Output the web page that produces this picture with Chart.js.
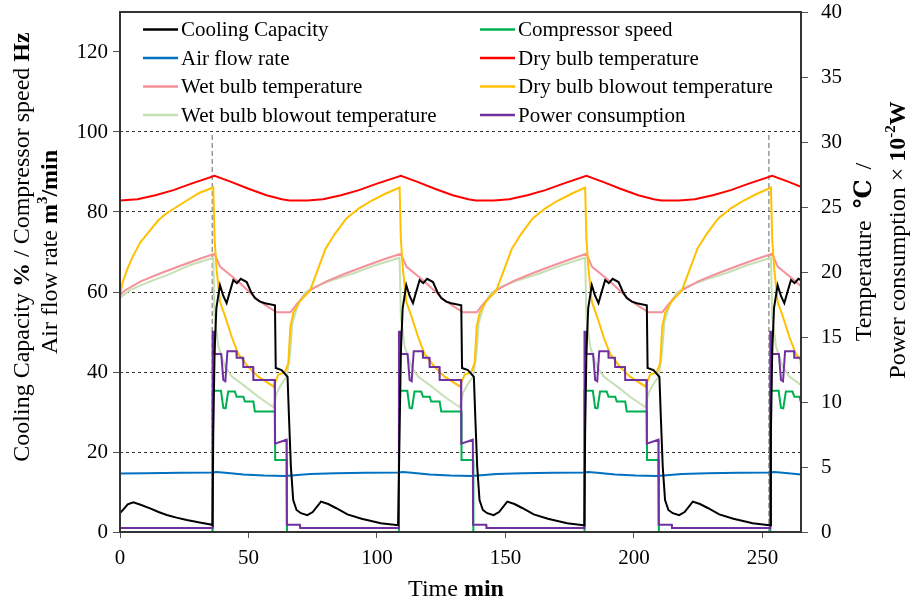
<!DOCTYPE html>
<html>
<head>
<meta charset="utf-8">
<script src="https://cdn.jsdelivr.net/npm/chart.js@4"></script>
<style>
  html, body { margin: 0; padding: 0; background: #fff; }
  #wrap { width: 913px; height: 601px; position: relative; }
</style>
</head>
<body>
<div id="wrap"><canvas id="chart"></canvas></div>
<script>
// ---- data: [time (min), value] ----
// left axis: Cooling Capacity %, Compressor speed Hz, Air flow rate m3/min
const coolingCapacity = [
  [0,4.7],[1.5,5.8],[3,6.9],[5.2,7.4],[8,6.8],[11.7,5.9],[15,5.0],[18.2,4.25],[22,3.6],[26,3.0],[31,2.4],[35.8,1.8],
  [36.0,1.7],[36.3,25],[36.8,45],[37.5,56],[38.9,61.7],[40.2,59],[41.5,57.2],[42.5,59.5],[44.1,63],[45.5,62.2],[47.0,63.3],[49.3,62.5],[51.0,60],[52.5,58.5],[54.5,57.6],[56.4,57.2],[60.3,56.7],[60.6,41],[62.9,40.5],[65.2,38.8],[65.8,28],[66.5,16.3],[67.4,8],[68.7,5.5],[70.4,4.7],[72.9,4.2],[75.0,5.0],[78.2,7.6],[81.0,7.0],[84.0,6.0],[88.5,4.4],[94.0,3.3],[101.5,2.2],[108.2,1.7],
  [108.5,1.7],[108.8,25],[109.3,45],[110.0,56],[111.4,61.7],[112.7,59],[114.0,57.2],[115.0,59.5],[116.6,63],[118.0,62.2],[119.5,63.3],[121.8,62.5],[123.5,60],[125.0,58.5],[127.0,57.6],[128.9,57.2],[132.8,56.7],[133.1,41],[135.4,40.5],[137.7,38.8],[138.3,28],[139.0,16.3],[139.9,8],[141.2,5.5],[142.9,4.7],[145.4,4.2],[147.5,5.0],[150.7,7.6],[153.5,7.0],[156.5,6.0],[161.0,4.4],[166.5,3.3],[174.0,2.2],[180.4,1.7],
  [180.7,1.7],[181.0,25],[181.5,45],[182.2,56],[183.6,61.7],[184.9,59],[186.2,57.2],[187.2,59.5],[188.8,63],[190.2,62.2],[191.7,63.3],[194.0,62.5],[195.7,60],[197.2,58.5],[199.2,57.6],[201.1,57.2],[205.0,56.7],[205.3,41],[207.6,40.5],[209.9,38.8],[210.5,28],[211.2,16.3],[212.1,8],[213.4,5.5],[215.1,4.7],[217.6,4.2],[219.7,5.0],[222.9,7.6],[225.7,7.0],[228.7,6.0],[233.2,4.4],[238.7,3.3],[246.2,2.2],[252.7,1.7],
  [253.0,1.7],[253.3,25],[253.8,45],[254.5,56],[255.9,61.7],[257.2,59],[258.5,57.2],[259.5,59.5],[261.1,63],[262.5,62.2],[264.0,63.3],[265,63]
];
const compressorSpeed = [
  [0,0],[36.0,0],
  [36.05,35.3],[39.3,35.3],[40.2,31],[41.1,30.9],[42.1,35.1],[44.7,35.1],[45.4,33.8],[48.0,33.8],[48.6,32.6],[51.9,32.6],[52.5,30.1],[60.3,30.1],[60.4,18],[64.9,18],[65.0,0],[108.5,0],
  [108.55,35.3],[111.8,35.3],[112.7,31],[113.6,30.9],[114.6,35.1],[117.2,35.1],[117.9,33.8],[120.5,33.8],[121.1,32.6],[124.4,32.6],[125.0,30.1],[132.8,30.1],[132.9,18],[137.4,18],[137.5,0],[180.7,0],
  [180.75,35.3],[184.0,35.3],[184.9,31],[185.8,30.9],[186.8,35.1],[189.4,35.1],[190.1,33.8],[192.7,33.8],[193.3,32.6],[196.6,32.6],[197.2,30.1],[205.0,30.1],[205.1,18],[209.6,18],[209.7,0],[253.0,0],
  [253.05,35.3],[256.3,35.3],[257.2,31],[258.1,30.9],[259.1,35.1],[261.7,35.1],[262.4,33.8],[264.4,33.8],[264.9,32.6],[265,32.6]
];
const airFlowRate = [
  [0,14.6],[10,14.7],[24,14.8],[36.0,14.9],[37.5,15.0],[41,14.8],[48,14.4],[56,14.1],[64,14.0],[68,14.2],[74,14.5],[84,14.7],[96,14.8],
  [108.5,14.9],[110,15.0],[113.5,14.8],[120.5,14.4],[128.5,14.1],[136.5,14.0],[140.5,14.2],[146.5,14.5],[156.5,14.7],[168.5,14.8],
  [180.7,14.9],[182.2,15.0],[185.7,14.8],[192.7,14.4],[200.7,14.1],[208.7,14.0],[212.7,14.2],[218.7,14.5],[228.7,14.7],[240.7,14.8],
  [253.0,14.9],[254.5,15.0],[258,14.8],[265,14.4]
];
// right axis: Temperature degC, Power consumption x10^-2 W
const dryBulbTemp = [
  [0,25.5],[6.8,25.6],[13.8,25.9],[20.8,26.3],[27.8,26.8],[36.8,27.4],
  [43,26.95],[50,26.4],[57,25.9],[63,25.6],[66,25.5],[73,25.5],[79,25.6],[86,25.9],[93,26.3],[100,26.8],[109.3,27.4],
  [115.5,26.95],[122.5,26.4],[129.5,25.9],[135.5,25.6],[138.5,25.5],[145.5,25.5],[151.5,25.6],[158.5,25.9],[165.5,26.3],[172.5,26.8],[181.5,27.4],
  [187.7,26.95],[194.7,26.4],[201.7,25.9],[207.7,25.6],[210.7,25.5],[217.7,25.5],[223.7,25.6],[230.7,25.9],[237.7,26.3],[244.7,26.8],[253.8,27.4],
  [260,26.95],[265,26.55]
];
const wetBulbTemp = [
  [0,18.2],[2,18.6],[8.3,19.3],[15.8,19.9],[23.8,20.5],[30.8,21.0],[36.8,21.4],
  [39,20.4],[44,19.6],[48,18.9],[53.3,17.9],[57,17.4],[61,16.9],[66.3,16.9],[68.7,17.5],[71,18.0],[74,18.6],[80.5,19.3],[88,19.9],[96,20.5],[103,21.0],[109.3,21.4],
  [111.5,20.4],[116.5,19.6],[120.5,18.9],[125.8,17.9],[129.5,17.4],[133.5,16.9],[138.8,16.9],[141.2,17.5],[143.5,18.0],[146.5,18.6],[153,19.3],[160.5,19.9],[168.5,20.5],[175.5,21.0],[181.5,21.4],
  [183.7,20.4],[188.7,19.6],[192.7,18.9],[198,17.9],[201.7,17.4],[205.7,16.9],[211,16.9],[213.4,17.5],[215.7,18.0],[218.7,18.6],[225.2,19.3],[232.7,19.9],[240.7,20.5],[247.7,21.0],[253.8,21.4],
  [256,20.4],[261,19.6],[265,18.9]
];
const dryBulbBlowout = [
  [0,18.2],[1,19.2],[3,20.3],[5,21.2],[8,22.3],[11.7,23.2],[15,24.0],[18,24.5],[22,25.0],[26,25.5],[31,26.1],[36.3,26.5],
  [36.8,22.5],[37.6,20.2],[38.9,17.7],[40.9,16.6],[43.5,15.0],[46,13.7],[49.9,12.7],[53.8,11.95],[59.7,11.2],[61.6,12.1],[64.2,12.3],[65.5,13.0],[66.3,15.8],[67.5,16.9],[70.2,17.8],[74,18.6],[77,20.2],[80,21.8],[83.5,22.9],[88,24.1],[93,24.9],[98,25.5],[103,26.0],[108.8,26.5],
  [109.3,22.5],[110.1,20.2],[111.4,17.7],[113.4,16.6],[116,15.0],[118.5,13.7],[122.4,12.7],[126.3,11.95],[132.2,11.2],[134.1,12.1],[136.7,12.3],[138,13.0],[138.8,15.8],[140,16.9],[142.7,17.8],[146.5,18.6],[149.5,20.2],[152.5,21.8],[156,22.9],[160.5,24.1],[165.5,24.9],[170.5,25.5],[175.5,26.0],[181,26.5],
  [181.5,22.5],[182.3,20.2],[183.6,17.7],[185.6,16.6],[188.2,15.0],[190.7,13.7],[194.6,12.7],[198.5,11.95],[204.4,11.2],[206.3,12.1],[208.9,12.3],[210.2,13.0],[211,15.8],[212.2,16.9],[214.9,17.8],[218.7,18.6],[221.7,20.2],[224.7,21.8],[228.2,22.9],[232.7,24.1],[237.7,24.9],[242.7,25.5],[247.7,26.0],[253.3,26.5],
  [253.8,22.5],[254.6,20.2],[255.9,17.7],[257.9,16.6],[260.5,15.0],[263,13.7],[265,13.2]
];
const wetBulbBlowout = [
  [0,18.0],[3.8,18.6],[10.8,19.2],[18.8,19.8],[26.8,20.5],[36.3,21.1],
  [36.8,16.5],[38.3,14.25],[40.9,12.7],[43.5,11.95],[48.7,11.2],[53.8,10.4],[59.7,9.6],[61,10.7],[62.9,11.4],[64.9,11.95],[66.2,13.7],[67.1,16.1],[69.4,17.6],[72,18.4],[76,18.9],[83,19.4],[91,19.9],[99,20.5],[108.8,21.1],
  [109.3,16.5],[110.8,14.25],[113.4,12.7],[116,11.95],[121.2,11.2],[126.3,10.4],[132.2,9.6],[133.5,10.7],[135.4,11.4],[137.4,11.95],[138.7,13.7],[139.6,16.1],[141.9,17.6],[144.5,18.4],[148.5,18.9],[155.5,19.4],[163.5,19.9],[171.5,20.5],[181,21.1],
  [181.5,16.5],[183,14.25],[185.6,12.7],[188.2,11.95],[193.4,11.2],[198.5,10.4],[204.4,9.6],[205.7,10.7],[207.6,11.4],[209.6,11.95],[210.9,13.7],[211.8,16.1],[214.1,17.6],[216.7,18.4],[220.7,18.9],[227.7,19.4],[235.7,19.9],[243.7,20.5],[253.3,21.1],
  [253.8,16.5],[255.3,14.25],[257.9,12.7],[260.5,11.95],[265,11.3]
];
const powerConsumption = [
  [0,0.3],[36.0,0.3],
  [36.05,15.4],[36.7,15.4],[36.75,13.7],[39.4,13.7],[40.2,11.7],[41.0,11.6],[41.8,13.9],[45.3,13.9],[45.4,13.4],[47.9,13.4],[48.0,12.7],[51.8,12.7],[51.9,11.7],[60.2,11.7],[60.3,6.8],[64.8,7.1],[64.9,0.55],[70.0,0.55],[70.1,0.3],[108.5,0.3],
  [108.55,15.4],[109.2,15.4],[109.25,13.7],[111.9,13.7],[112.7,11.7],[113.5,11.6],[114.3,13.9],[117.8,13.9],[117.9,13.4],[120.4,13.4],[120.5,12.7],[124.3,12.7],[124.4,11.7],[132.7,11.7],[132.8,6.8],[137.3,7.1],[137.4,0.55],[142.5,0.55],[142.6,0.3],[180.7,0.3],
  [180.75,15.4],[181.4,15.4],[181.45,13.7],[184.1,13.7],[184.9,11.7],[185.7,11.6],[186.5,13.9],[190.0,13.9],[190.1,13.4],[192.6,13.4],[192.7,12.7],[196.5,12.7],[196.6,11.7],[204.9,11.7],[205.0,6.8],[209.5,7.1],[209.6,0.55],[214.7,0.55],[214.8,0.3],[253.0,0.3],
  [253.05,15.4],[253.7,15.4],[253.75,13.7],[256.4,13.7],[257.2,11.7],[258.0,11.6],[258.8,13.9],[262.3,13.9],[262.4,13.4],[264.9,13.4],[265,12.7]
];
// dashed vertical marks (time, from 0 up to 100 on the left axis)
const markerTimes = [35.9, 252.5];
const markerTop = 100;

// axis ranges / ticks
const xRange = [0, 265], xStep = 50;
const yLeftRange = [0, 130], yLeftStep = 20;
const yRightRange = [0, 40], yRightStep = 5;
const dashedGridValues = [20, 40, 60, 80, 100];

const FONT = "'Liberation Serif', 'Times New Roman', 'DejaVu Serif', serif";
Chart.defaults.font.family = FONT;
Chart.defaults.color = '#000';

const series = [
  { label: 'Cooling Capacity', data: coolingCapacity, color: '#000000', axis: 'y', order: 0 },
  { label: 'Compressor speed', data: compressorSpeed, color: '#00b050', axis: 'y', order: 2 },
  { label: 'Air flow rate', data: airFlowRate, color: '#0070c0', axis: 'y', order: 6 },
  { label: 'Dry bulb temperature', data: dryBulbTemp, color: '#ff0000', axis: 'y1', order: 4 },
  { label: 'Wet bulb temperature', data: wetBulbTemp, color: '#f4919b', axis: 'y1', order: 5 },
  { label: 'Dry bulb blowout temperature', data: dryBulbBlowout, color: '#ffc000', axis: 'y1', order: 3 },
  { label: 'Wet bulb blowout temperature', data: wetBulbBlowout, color: '#c6e0b4', axis: 'y1', order: 7 },
  { label: 'Power consumption', data: powerConsumption, color: '#7030a0', axis: 'y1', order: 1 }
];

const datasets = series.map(s => ({
  label: s.label,
  data: s.data.map(p => ({ x: p[0], y: p[1] })),
  borderColor: s.color,
  backgroundColor: s.color,
  borderWidth: 2,
  pointRadius: 0,
  tension: 0,
  fill: false,
  yAxisID: s.axis,
  order: s.order
}));
markerTimes.forEach(t => {
  datasets.push({
    label: '',
    data: [{ x: t, y: 0 }, { x: t, y: markerTop }],
    borderColor: '#8a8a8a',
    borderWidth: 1.3,
    borderDash: [5, 3],
    pointRadius: 0,
    yAxisID: 'y',
    order: 9
  });
});

// text with bold / superscript parts (or blank gaps), centred at (cx, cy), rotated by angle
function drawRich(ctx, parts, cx, cy, size, angle) {
  ctx.save();
  ctx.translate(cx, cy);
  ctx.rotate(angle);
  ctx.textBaseline = 'alphabetic';
  ctx.textAlign = 'left';
  ctx.fillStyle = '#000';
  const fontOf = p => (p.bold ? 'bold ' : '') + (p.sup ? Math.round(size * 0.62) : size) + 'px ' + FONT;
  let total = 0;
  const widths = parts.map(p => {
    if (p.gap) { total += p.gap; return p.gap; }
    ctx.font = fontOf(p);
    const w = ctx.measureText(p.t).width;
    total += w;
    return w;
  });
  let x = -total / 2;
  const base = size * 0.33;
  parts.forEach((p, i) => {
    if (!p.gap) {
      ctx.font = fontOf(p);
      ctx.fillText(p.t, x, p.sup ? base - size * 0.4 : base);
    }
    x += widths[i];
  });
  ctx.restore();
}

const framePlugin = {
  id: 'frame',
  afterDatasetsDraw(chart) {
    const { ctx, chartArea: a } = chart;
    ctx.save();
    ctx.strokeStyle = '#333';
    ctx.lineWidth = 2;
    ctx.strokeRect(a.left, a.top, a.right - a.left, a.bottom - a.top);
    ctx.restore();
  }
};

const legendPlugin = {
  id: 'customLegend',
  afterDraw(chart) {
    const { ctx, chartArea: a } = chart;
    const colX = [23, 360];
    ctx.save();
    ctx.font = '21px ' + FONT;
    ctx.textBaseline = 'middle';
    ctx.fillStyle = '#000';
    series.forEach((s, i) => {
      const x = a.left + colX[i % 2];
      const y = a.top + 17.5 + Math.floor(i / 2) * 28.5;
      ctx.strokeStyle = s.color;
      ctx.lineWidth = 2.5;
      ctx.beginPath();
      ctx.moveTo(x, y);
      ctx.lineTo(x + 35, y);
      ctx.stroke();
      ctx.fillText(s.label, x + 38, y + 1);
    });
    ctx.restore();
  }
};

const titlePlugin = {
  id: 'axisTitles',
  afterDraw(chart) {
    const { ctx } = chart;
    const up = -Math.PI / 2;
    drawRich(ctx, [
      { t: 'Cooling Capacity ' }, { t: '%', bold: true }, { t: ' / Compressor speed ' }, { t: 'Hz', bold: true }
    ], 21, 247, 24, up);
    drawRich(ctx, [
      { t: 'Air flow rate ' }, { t: 'm', bold: true }, { t: '3', bold: true, sup: true }, { t: '/min', bold: true }
    ], 49, 252, 24, up);
    drawRich(ctx, [
      { t: 'Temperature' }, { gap: 12 }, { t: '℃', bold: true }, { gap: 10 }, { t: '/' }
    ], 863, 252, 24, up);
    drawRich(ctx, [
      { t: 'Power consumption ' }, { t: '× ' }, { t: '10', bold: true }, { t: '-2', bold: true, sup: true }, { t: 'W', bold: true }
    ], 897, 240, 24, up);
    drawRich(ctx, [{ t: 'Time ' }, { t: 'min', bold: true }], 456, 588, 24, 0);
  }
};

// drop the automatic half-label padding so the plot can reach y = 12
function noVertPad(s) { s.paddingTop = 0; s.paddingBottom = 0; }

new Chart(document.getElementById('chart'), {
  type: 'line',
  data: { datasets },
  options: {
    responsive: true,
    maintainAspectRatio: false,
    animation: false,
    layout: { padding: { top: 12, left: 0, right: 0, bottom: 0 } },
    plugins: { legend: { display: false }, tooltip: { enabled: false } },
    scales: {
      x: {
        type: 'linear',
        min: xRange[0], max: xRange[1],
        ticks: { stepSize: xStep, includeBounds: false, font: { size: 21 }, padding: 8, maxRotation: 0 },
        grid: { drawOnChartArea: false, tickLength: 6, tickColor: '#555' },
        border: { display: false },
        afterFit(s) { s.height = 69; s.paddingLeft = 0; s.paddingRight = 0; }
      },
      y: {
        position: 'left',
        min: yLeftRange[0], max: yLeftRange[1],
        ticks: { stepSize: yLeftStep, includeBounds: false, font: { size: 21 }, padding: 5 },
        grid: {
          color: c => dashedGridValues.includes(c.tick && c.tick.value) ? '#333' : 'rgba(0,0,0,0)',
          tickColor: '#555', tickLength: 7, lineWidth: 1
        },
        border: { display: false, dash: [3, 3] },
        afterFit(s) { s.width = 120; noVertPad(s); }
      },
      y1: {
        position: 'right',
        min: yRightRange[0], max: yRightRange[1],
        ticks: { stepSize: yRightStep, includeBounds: false, font: { size: 21 }, padding: 13 },
        grid: { drawOnChartArea: false, tickColor: '#555', tickLength: 7 },
        border: { display: false },
        afterFit(s) { s.width = 112; noVertPad(s); }
      }
    }
  },
  plugins: [framePlugin, legendPlugin, titlePlugin]
});
</script>
</body>
</html>
